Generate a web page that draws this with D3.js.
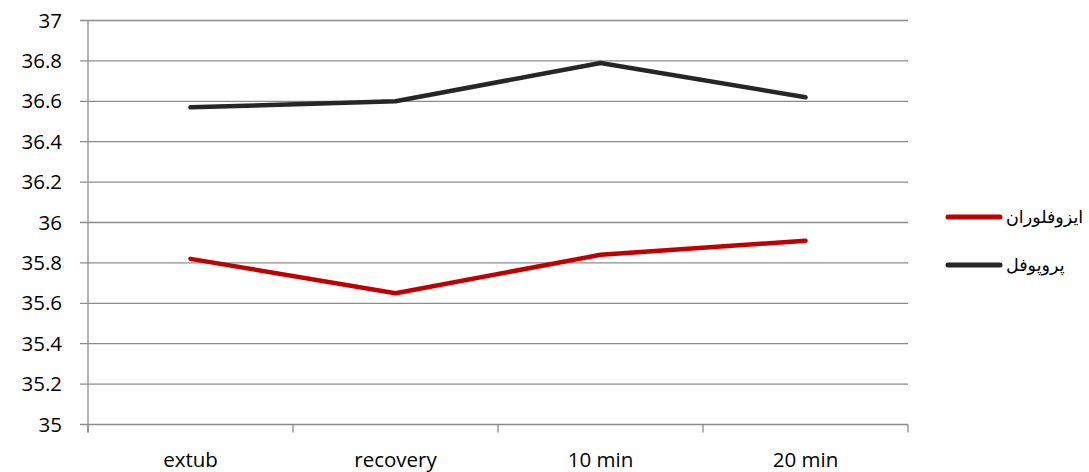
<!DOCTYPE html>
<html>
<head>
<meta charset="utf-8">
<script src="https://cdn.jsdelivr.net/npm/d3@7"></script>
<style>
  body { margin: 0; background: #fff; overflow: hidden; }
  svg text { font-family: "Open Sans", "Noto Sans", "DejaVu Sans", sans-serif; fill: #000; }
</style>
</head>
<body>
<div id="chart"></div>
<script>
var categories = ["extub", "recovery", "10 min", "20 min"];
var isoflurane = [35.82, 35.65, 35.84, 35.91];
var propofol = [36.57, 36.60, 36.79, 36.62];
var seriesNames = ["ایزوفلوران", "پروپوفل"];
var seriesColors = ["#c00000", "#262626"];
var yTicks = [35, 35.2, 35.4, 35.6, 35.8, 36, 36.2, 36.4, 36.6, 36.8, 37];

var width = 1089, height = 472;
var plotLeft = 88, plotRight = 908, plotTop = 20.5, plotBottom = 424.5;

var svg = d3.select("#chart").append("svg")
    .attr("width", width)
    .attr("height", height)
    .style("display", "block");

var x = d3.scaleBand().domain(categories).range([plotLeft, plotRight]);
var y = d3.scaleLinear().domain([35, 37]).range([plotBottom, plotTop]);

// gridlines
svg.append("g").selectAll("line")
    .data(yTicks)
    .enter().append("line")
    .attr("x1", plotLeft - 8).attr("x2", plotRight)
    .attr("y1", function(d) { return y(d); })
    .attr("y2", function(d) { return y(d); })
    .attr("stroke", "#8c8c8c")
    .attr("stroke-width", 1.3);

// y labels
svg.append("g").selectAll("text")
    .data(yTicks)
    .enter().append("text")
    .attr("x", 62)
    .attr("y", function(d) { return y(d); })
    .attr("dy", "0.35em")
    .attr("text-anchor", "end")
    .attr("font-size", "20.5px")
    .text(function(d) { return +d.toFixed(1); });

// axis lines
svg.append("line")
    .attr("x1", plotLeft).attr("x2", plotLeft)
    .attr("y1", plotTop).attr("y2", plotBottom + 8)
    .attr("stroke", "#8c8c8c").attr("stroke-width", 1.3);

var xTickPos = categories.map(function(c) { return x(c); }).concat([plotRight]);
svg.append("g").selectAll("line")
    .data(xTickPos)
    .enter().append("line")
    .attr("x1", function(d) { return d; })
    .attr("x2", function(d) { return d; })
    .attr("y1", plotBottom).attr("y2", plotBottom + 8)
    .attr("stroke", "#8c8c8c").attr("stroke-width", 1.3);

svg.append("g").selectAll("text")
    .data(categories)
    .enter().append("text")
    .attr("x", function(d) { return x(d) + x.bandwidth() / 2; })
    .attr("y", 467)
    .attr("text-anchor", "middle")
    .attr("font-size", "20.5px")
    .text(function(d) { return d; });

// lines
var line = d3.line()
    .x(function(d, i) { return x(categories[i]) + x.bandwidth() / 2; })
    .y(function(d) { return y(d); });

[isoflurane, propofol].forEach(function(s, i) {
    svg.append("path")
        .datum(s)
        .attr("d", line)
        .attr("fill", "none")
        .attr("stroke", seriesColors[i])
        .attr("stroke-width", 4.5)
        .attr("stroke-linecap", "round")
        .attr("stroke-linejoin", "round");
});

// legend
var legend = svg.append("g").selectAll("g")
    .data(seriesNames)
    .enter().append("g")
    .attr("transform", function(d, i) { return "translate(948," + (217 + i * 48) + ")"; });

legend.append("line")
    .attr("x1", 0).attr("x2", 52)
    .attr("stroke", function(d, i) { return seriesColors[i]; })
    .attr("stroke-width", 5)
    .attr("stroke-linecap", "round");

legend.append("text")
    .attr("x", 58)
    .attr("dy", "0.35em")
    .attr("text-anchor", "start")
    .attr("font-size", "17.5px")
    .text(function(d) { return d; });
</script>
</body>
</html>
